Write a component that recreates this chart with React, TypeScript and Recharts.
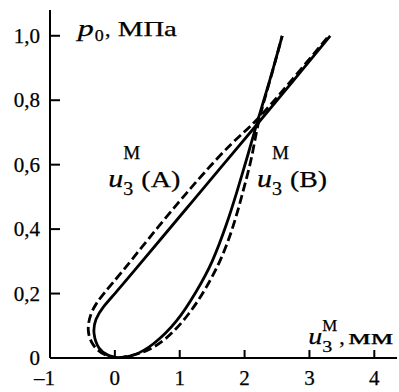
import React from 'react'
import { LineChart, Line, XAxis, YAxis, ReferenceDot } from 'recharts'

// u3 (мм) vs p0 (МПа)
const solidA: [number, number][] = [
  [0.05, 0], [-0.1, 0.008], [-0.24, 0.03], [-0.32, 0.075], [-0.29, 0.12], [-0.17, 0.16],
  [0.0, 0.2], [0.3, 0.271], [0.7, 0.367], [1.2, 0.487], [1.7, 0.607], [2.2, 0.727],
  [2.75, 0.86], [3.32, 1.0],
]
const dashedA: [number, number][] = [
  [0.05, 0], [-0.15, 0.01], [-0.33, 0.04], [-0.41, 0.088], [-0.35, 0.145], [-0.17, 0.2],
  [0.12, 0.27], [0.52, 0.37], [0.97, 0.48], [1.38, 0.575], [1.8, 0.665], [2.2, 0.742],
  [2.75, 0.868], [3.3, 1.0],
]
const solidB: [number, number][] = [
  [0.05, 0], [0.3, 0.01], [0.6, 0.045], [0.95, 0.115], [1.25, 0.205], [1.5, 0.3],
  [1.72, 0.415], [1.88, 0.515], [2.05, 0.63], [2.2, 0.735], [2.4, 0.87], [2.58, 1.0],
]
const dashedB: [number, number][] = [
  [0.05, 0], [0.4, 0.016], [0.77, 0.058], [1.13, 0.135], [1.41, 0.22], [1.65, 0.315],
  [1.84, 0.42], [1.98, 0.52], [2.11, 0.625], [2.22, 0.735], [2.4, 0.868], [2.58, 1.0],
]

const xTicks = [-1, 0, 1, 2, 3, 4]
const yTicks = [0, 0.2, 0.4, 0.6, 0.8, 1.0]

const font = '"Liberation Serif", "Times New Roman", serif'

const toRows = (pts: [number, number][]) => pts.map(([x, y]) => ({ x, y }))

type Piece = { t: string; dx: number; dy: number; size: number; italic?: boolean; w?: number }

const labelA: Piece[] = [
  { t: 'u', dx: 0, dy: 0, size: 25, italic: true, w: 15 },
  { t: '3', dx: 15, dy: 8, size: 18, w: 10 },
  { t: 'M', dx: 15, dy: -28, size: 19, w: 17 },
  { t: '(A)', dx: 33, dy: 0, size: 24, w: 39 },
]
const labelB: Piece[] = [
  { t: 'u', dx: 0, dy: 0, size: 25, italic: true, w: 15 },
  { t: '3', dx: 15, dy: 8, size: 18, w: 10 },
  { t: 'M', dx: 15, dy: -28, size: 19, w: 17 },
  { t: '(B)', dx: 33, dy: 0, size: 24, w: 37 },
]
const labelP: Piece[] = [
  { t: 'p', dx: 0, dy: 0, size: 23, italic: true, w: 16 },
  { t: '0', dx: 17, dy: 5, size: 16, w: 9 },
  { t: ',', dx: 27, dy: 0, size: 22 },
  { t: 'МПа', dx: 40, dy: 0, size: 21, w: 59 },
]
const labelU: Piece[] = [
  { t: 'u', dx: 0, dy: 0, size: 24, italic: true, w: 14 },
  { t: '3', dx: 14, dy: 8, size: 17, w: 10 },
  { t: 'M', dx: 14, dy: -13, size: 17, w: 15 },
  { t: ',', dx: 31, dy: 0, size: 22 },
  { t: 'мм', dx: 40, dy: 0, size: 22, w: 45 },
]

function MathText({ viewBox, pieces }: any) {
  const { x, y } = viewBox
  return (
    <g>
      {pieces.map((p: Piece, i: number) => (
        <text
          key={i}
          x={x + p.dx}
          y={y + p.dy}
          fontSize={p.size}
          fontStyle={p.italic ? 'italic' : 'normal'}
          fontFamily={font}
          fill="#000"
          stroke="#000"
          strokeWidth={0.25}
          textLength={p.w}
          lengthAdjust={p.w ? 'spacingAndGlyphs' : undefined}
        >
          {p.t}
        </text>
      ))}
    </g>
  )
}

function YTick({ x, y, payload }: any) {
  const v = payload.value
  const label = v === 0 ? '0' : v.toFixed(1).replace('.', ',')
  return (
    <g>
      <line x1={x} y1={y} x2={x + 10} y2={y} stroke="#000" strokeWidth={2} />
      <text x={x - 10} y={y + 7} textAnchor="end" fontFamily={font} fontSize={21} fill="#000" stroke="#000" strokeWidth={0.25}>
        {label}
      </text>
    </g>
  )
}

function XTick({ x, y, payload }: any) {
  const v = payload.value
  const neg = v < 0
  return (
    <g>
      <line x1={x} y1={y} x2={x} y2={y - 8} stroke="#000" strokeWidth={2} />
      <text
        x={neg ? x + 5 : x}
        y={y + 27}
        textAnchor={neg ? 'end' : 'middle'}
        fontFamily={font}
        fontSize={21}
        fill="#000"
        stroke="#000"
        strokeWidth={0.25}
      >
        {neg ? '–' + Math.abs(v) : String(v)}
      </text>
    </g>
  )
}

export default function App() {
  return (
    <div style={{ position: 'absolute', left: 0, top: 0, background: '#fff' }}>
      <LineChart width={399} height={392} margin={{ top: 10, right: 2, bottom: 0, left: 0 }}>
        <XAxis
          dataKey="x"
          type="number"
          domain={[-1, 4.35]}
          ticks={xTicks}
          allowDataOverflow
          height={34}
          tickSize={0}
          tickMargin={0}
          tickLine={false}
          axisLine={{ stroke: '#000', strokeWidth: 2 }}
          tick={<XTick />}
        />
        <YAxis
          dataKey="y"
          type="number"
          domain={[0, 1.08]}
          ticks={yTicks}
          allowDataOverflow
          width={50}
          tickSize={0}
          tickMargin={0}
          tickLine={false}
          axisLine={{ stroke: '#000', strokeWidth: 2 }}
          tick={<YTick />}
        />
        <Line data={toRows(solidA)} dataKey="y" type="natural" stroke="#000" strokeWidth={2.8} dot={false} activeDot={false} isAnimationActive={false} />
        <Line data={toRows(dashedA)} dataKey="y" type="natural" stroke="#000" strokeWidth={2.8} strokeDasharray="9 4" dot={false} activeDot={false} isAnimationActive={false} />
        <Line data={toRows(solidB)} dataKey="y" type="natural" stroke="#000" strokeWidth={2.8} dot={false} activeDot={false} isAnimationActive={false} />
        <Line data={toRows(dashedB)} dataKey="y" type="natural" stroke="#000" strokeWidth={2.8} strokeDasharray="9 4" dot={false} activeDot={false} isAnimationActive={false} />
        <ReferenceDot x={-0.1} y={0.53} r={0} fill="none" stroke="none" label={(p: any) => <MathText viewBox={p.viewBox} pieces={labelA} />} />
        <ReferenceDot x={2.19} y={0.53} r={0} fill="none" stroke="none" label={(p: any) => <MathText viewBox={p.viewBox} pieces={labelB} />} />
        <ReferenceDot x={-0.57} y={1.0} r={0} fill="none" stroke="none" label={(p: any) => <MathText viewBox={p.viewBox} pieces={labelP} />} />
        <ReferenceDot x={2.98} y={0.043} r={0} fill="none" stroke="none" label={(p: any) => <MathText viewBox={p.viewBox} pieces={labelU} />} />
      </LineChart>
    </div>
  )
}
